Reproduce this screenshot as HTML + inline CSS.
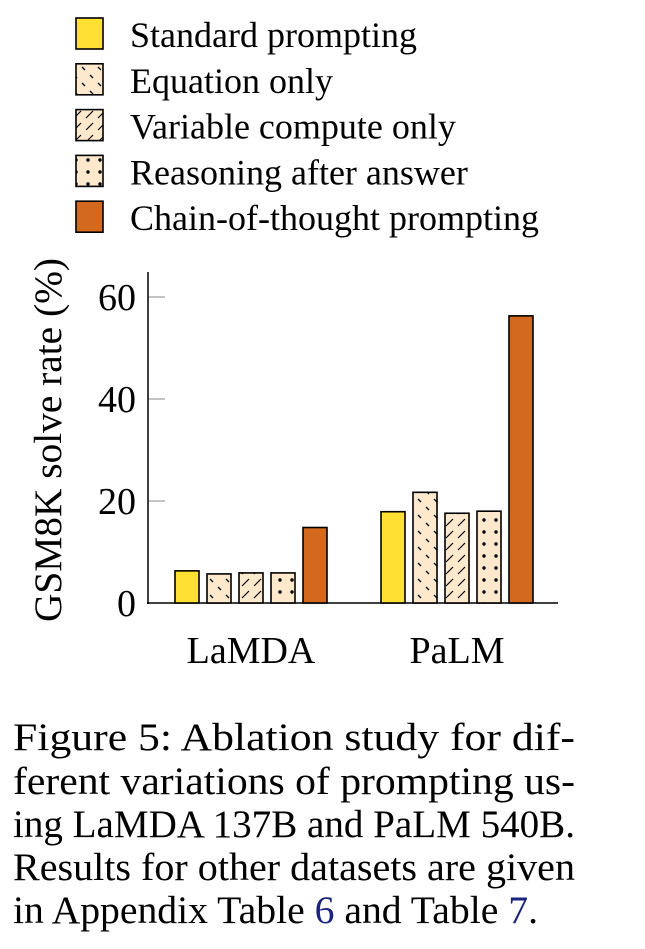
<!DOCTYPE html>
<html><head><meta charset="utf-8"><style>
html,body{margin:0;padding:0;background:#fff;}
svg{display:block;font-family:"Liberation Serif",serif;}
</style></head><body>
<svg id="chart" width="645" height="949" viewBox="0 0 645 949" xmlns="http://www.w3.org/2000/svg">
<defs>
<pattern id="pEq" width="16" height="16" patternUnits="userSpaceOnUse">
<rect width="16" height="16" fill="#ffe9cc"/>
<line x1="2" y1="3" x2="5" y2="6" stroke="#000" stroke-width="1.3"/>
<line x1="10" y1="11" x2="13" y2="14" stroke="#000" stroke-width="1.3"/>
</pattern>
<pattern id="pVar" width="12" height="12" patternUnits="userSpaceOnUse">
<rect width="12" height="12" fill="#ffe9cc"/>
<line x1="2" y1="10" x2="9" y2="3" stroke="#000" stroke-width="1.2"/>
</pattern>
<pattern id="pDot" width="12" height="12" patternUnits="userSpaceOnUse">
<rect width="12" height="12" fill="#ffe9cc"/>
<circle cx="4" cy="4" r="1.7" fill="#000"/>
</pattern>
</defs>
<g id="legend"></g>
<g id="axes"></g>
<g id="bars"></g>
<text transform="translate(61,440) rotate(-90)" text-anchor="middle" font-size="39" textLength="364" lengthAdjust="spacingAndGlyphs">GSM8K solve rate (%)</text>
<g font-size="39">
<text x="13" y="750" textLength="562" lengthAdjust="spacingAndGlyphs">Figure 5:   Ablation study for dif-</text>
<text x="13" y="794" textLength="562" lengthAdjust="spacingAndGlyphs">ferent variations of prompting us-</text>
<text x="13" y="837" textLength="562" lengthAdjust="spacingAndGlyphs">ing LaMDA 137B and PaLM 540B.</text>
<text x="13" y="880" textLength="562" lengthAdjust="spacingAndGlyphs">Results for other datasets are given</text>
<text x="13" y="923" textLength="525" lengthAdjust="spacingAndGlyphs">in Appendix Table <tspan fill="#1a237e">6</tspan> and Table <tspan fill="#1a237e">7</tspan>.</text>
</g>
</svg>
<script>
const categories = ["LaMDA", "PaLM"];
const seriesNames = ["Standard prompting", "Equation only", "Variable compute only", "Reasoning after answer", "Chain-of-thought prompting"];
const standardVals = [6.3, 17.9];
const equationVals = [5.7, 21.7];
const variableVals = [5.9, 17.6];
const reasoningVals = [5.9, 18.0];
const cotVals = [14.8, 56.3];
const yTicks = [0, 20, 40, 60];

const NS = "http://www.w3.org/2000/svg";
const fills = ["#ffe033", "url(#pEq)", "url(#pVar)", "url(#pDot)", "#d2691e"];
const series = [standardVals, equationVals, variableVals, reasoningVals, cotVals];
const y0 = 603, pxPerUnit = 5.1;
const yScale = v => y0 - v * pxPerUnit;
const groupStart = [175, 381];
const xScale = (g, s) => groupStart[g] + s * 32;
function mk(tag, attrs, parent) {
  const el = document.createElementNS(NS, tag);
  for (const k in attrs) el.setAttribute(k, attrs[k]);
  parent.appendChild(el);
  return el;
}
const legend = document.getElementById("legend");
seriesNames.forEach((n, i) => {
  const r = mk("rect", {x: 76, y: 18 + i * 45.8, width: 27, height: 31, fill: fills[i], stroke: "#000", "stroke-width": 1.6}, legend);
  
  
  const t = mk("text", {x: 130, y: 47 + i * 45.8, "font-size": 36}, legend);
  t.textContent = n;
  
  
});
const axes = document.getElementById("axes");
yTicks.forEach(v => {
  if (v > 0) {
    const l = mk("line", {x1: 148, x2: 165, y1: yScale(v), y2: yScale(v), stroke: "#888", "stroke-width": 1}, axes);
    
    
  }
  const t = mk("text", {x: 136, y: yScale(v) + 13, "text-anchor": "end", "font-size": 38}, axes);
  t.textContent = v;
  
  
});
const ya = mk("line", {x1: 148, x2: 148, y1: 272, y2: 604, stroke: "#000", "stroke-width": 1.5}, axes);


const xa = mk("line", {x1: 147, x2: 558, y1: 603, y2: 603, stroke: "#000", "stroke-width": 1.5}, axes);


categories.forEach((c, g) => {
  const t = mk("text", {x: xScale(g, 2) + 12, y: 663, "text-anchor": "middle", "font-size": 38}, axes);
  t.textContent = c;
  
  
});
const bars = document.getElementById("bars");
series.forEach((vals, s) => {
  vals.forEach((v, g) => {
    const r = mk("rect", {x: xScale(g, s), y: yScale(v), width: 24, height: y0 - yScale(v), fill: fills[s], stroke: "#000", "stroke-width": 1.6}, bars);
    
    
  });
});
</script>
</body></html>
